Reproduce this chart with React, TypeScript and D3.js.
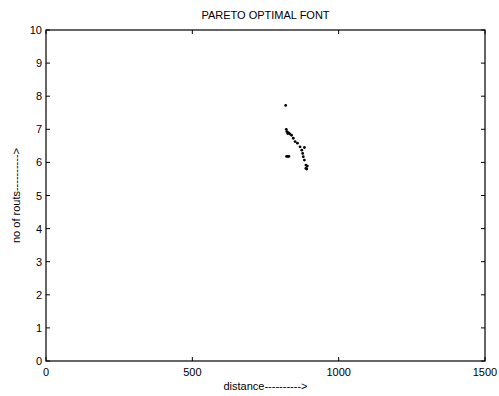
import React from "react";
import * as d3 from "d3";

const distances = [819, 821, 823, 826, 828, 833, 839, 845, 851, 859, 868, 874, 883, 877, 879, 883, 888, 888, 893, 891, 822, 826, 830];
const routes = [7.72, 7.0, 6.93, 6.87, 6.9, 6.86, 6.82, 6.73, 6.63, 6.58, 6.47, 6.37, 6.45, 6.27, 6.17, 6.07, 5.92, 5.82, 5.89, 5.8, 6.18, 6.18, 6.18];
const xTicks = [0, 500, 1000, 1500];
const yTicks = [0, 1, 2, 3, 4, 5, 6, 7, 8, 9, 10];

const W = 499, H = 396;
const L = 46, R = 485, T = 30, B = 361;

export default function App() {
  const x = d3.scaleLinear().domain([0, 1500]).range([L, R]);
  const y = d3.scaleLinear().domain([0, 10]).range([B, T]);
  const font = "Arial, 'Liberation Sans', sans-serif";
  return (
    <svg width={W} height={H} style={{ position: "absolute", left: 0, top: 0, background: "#fff" }}>
      <rect x={0} y={0} width={W} height={H} fill="#fff" />
      <rect x={L} y={T} width={R - L} height={B - T} fill="#fff" stroke="#000" strokeWidth={1.2} />
      {xTicks.map((t) => (
        <g key={"x" + t}>
          <line x1={x(t)} x2={x(t)} y1={B} y2={B - 4} stroke="#000" />
          <line x1={x(t)} x2={x(t)} y1={T} y2={T + 4} stroke="#000" />
          <text x={x(t)} y={B + 15} textAnchor="middle" fontSize={11} fontFamily={font}>{t}</text>
        </g>
      ))}
      {yTicks.map((t) => (
        <g key={"y" + t}>
          <line x1={L} x2={L + 4} y1={y(t)} y2={y(t)} stroke="#000" />
          <line x1={R} x2={R - 4} y1={y(t)} y2={y(t)} stroke="#000" />
          <text x={L - 4} y={y(t) + 4} textAnchor="end" fontSize={11} fontFamily={font}>{t}</text>
        </g>
      ))}
      {distances.map((d, i) => (
        <circle key={i} cx={x(d)} cy={y(routes[i])} r={1.4} fill="#000" />
      ))}
      <text x={(L + R) / 2} y={19} textAnchor="middle" fontSize={11} fontFamily={font}>PARETO OPTIMAL FONT</text>
      <text x={(L + R) / 2} y={390} textAnchor="middle" fontSize={11} fontFamily={font}>distance----------&gt;</text>
      <text transform={`translate(20, ${(T + B) / 2}) rotate(-90)`} textAnchor="middle" fontSize={11} fontFamily={font}>no of routs----------&gt;</text>
    </svg>
  );
}
